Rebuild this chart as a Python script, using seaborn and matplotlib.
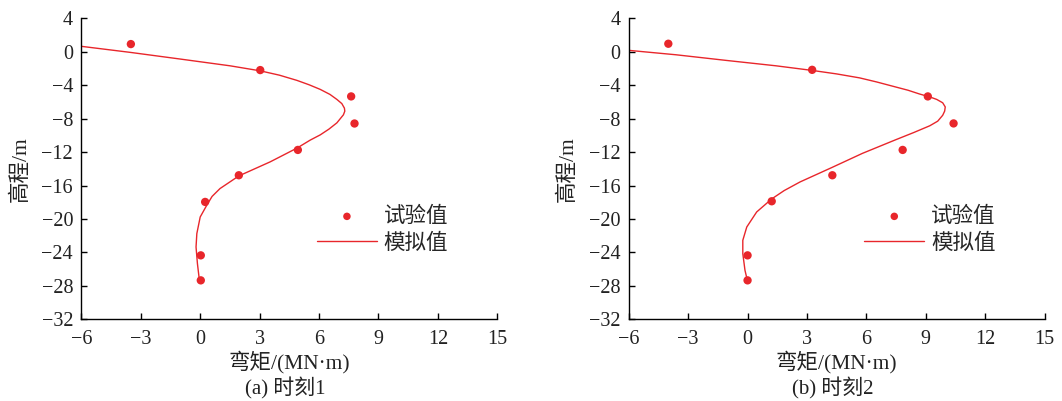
import matplotlib
matplotlib.use("Agg")
import matplotlib.pyplot as plt
import seaborn as sns

# measured points (experiment)
exp_a_x = [-3.5, 3.03, 7.62, 7.79, 4.93, 1.95, 0.25, 0.03, 0.03]
exp_a_y = [0.92, -2.19, -5.34, -8.58, -11.74, -14.77, -17.96, -24.35, -27.34]
exp_b_x = [-4.0, 3.26, 9.1, 10.4, 7.83, 4.28, 1.22, 0.0, 0.0]
exp_b_y = [0.96, -2.16, -5.34, -8.57, -11.74, -14.77, -17.88, -24.35, -27.34]

# simulated curves
sim_a_x = [-6.0, -3.54, -1.01, 1.51, 3.03, 4.0, 4.88, 5.5, 6.06, 6.55, 6.9, 7.15, 7.28,
           7.3, 7.23, 6.9, 6.5, 6.06, 5.55, 4.88, 3.53, 1.95, 1.0, 0.6, 0.33, 0.0, -0.17,
           -0.21, -0.14, -0.04]
sim_a_y = [0.65, -0.07, -0.87, -1.68, -2.28, -2.8, -3.42, -3.95, -4.5, -5.1, -5.7, -6.2,
           -6.74, -7.1, -7.54, -8.5, -9.25, -9.94, -10.57, -11.53, -13.17, -14.85, -16.36,
           -17.3, -18.36, -19.76, -21.75, -23.35, -25.34, -27.34]
sim_b_x = [-6.0, -3.61, -1.09, 1.44, 3.26, 4.5, 5.65, 6.5, 7.33, 8.1, 8.68, 9.2, 9.55,
           9.85, 9.98, 9.95, 9.85, 9.6, 9.2, 8.4, 7.45, 5.8, 4.25, 2.65, 1.85, 1.22, 0.46,
           -0.04, -0.24, -0.24, -0.13, -0.01]
sim_b_y = [0.17, -0.36, -1.03, -1.68, -2.23, -2.65, -3.12, -3.6, -4.12, -4.6, -5.05,
           -5.4, -5.7, -6.1, -6.6, -7.1, -7.6, -8.3, -8.85, -9.65, -10.55, -12.15, -13.85,
           -15.57, -16.6, -17.6, -19.16, -20.96, -22.55, -24.14, -26.14, -27.34]

captions = ["(a) 时刻1", "(b) 时刻2"]
xticks = [-6, -3, 0, 3, 6, 9, 12, 15]
yticks = [4, 0, -4, -8, -12, -16, -20, -24, -28, -32]

sns.set_style("white")
plt.rcParams["font.family"] = ["Liberation Serif", "Noto Sans CJK SC"]
plt.rcParams["axes.unicode_minus"] = True

red = "#e8262b"
txt = "#222222"
fig = plt.figure(figsize=(10.62, 4.01), dpi=100)
lefts = [0.0766, 0.592]
data = [(exp_a_x, exp_a_y, sim_a_x, sim_a_y), (exp_b_x, exp_b_y, sim_b_x, sim_b_y)]

for i in range(2):
    ax = fig.add_axes([lefts[i], 0.2037, 0.3917, 0.7506])
    ex, ey, sx, sy = data[i]
    sns.lineplot(x=sx, y=sy, sort=False, estimator=None, color=red, linewidth=1.0,
                 label="模拟值", ax=ax)
    sns.scatterplot(x=ex, y=ey, color=red, s=36, edgecolor="none", label="试验值", ax=ax,
                    zorder=3)
    ax.set_xlim(-6, 15)
    ax.set_ylim(-32, 4)
    ax.set_xticks(xticks)
    ax.set_yticks(yticks)
    ax.tick_params(direction="in", length=4, width=1, labelsize=14.5, colors="black",
                   labelcolor=txt, left=True, bottom=True)
    ax.tick_params(axis="x", pad=8)
    ax.tick_params(axis="y", pad=6)
    for s in ["top", "right"]:
        ax.spines[s].set_visible(False)
    for s in ["left", "bottom"]:
        ax.spines[s].set_color("black")
        ax.spines[s].set_linewidth(1.0)
    ax.set_xlabel("弯矩/(MN·m)", fontsize=15.5, labelpad=1, color=txt)
    ax.set_ylabel("高程/m", fontsize=15.5, labelpad=8, color=txt)
    ax.text(0.49, -0.228, captions[i], transform=ax.transAxes, ha="center", va="center",
            fontsize=15, color=txt)
    h, l = ax.get_legend_handles_labels()
    ax.legend(h[::-1], l[::-1], loc="center left", bbox_to_anchor=(0.566, 0.296),
              frameon=False, fontsize=15.5, handlelength=2.8, handletextpad=0.3,
              labelspacing=0.3, markerscale=0.9, borderpad=0, borderaxespad=0)

fig.savefig("out.png", dpi=100)
